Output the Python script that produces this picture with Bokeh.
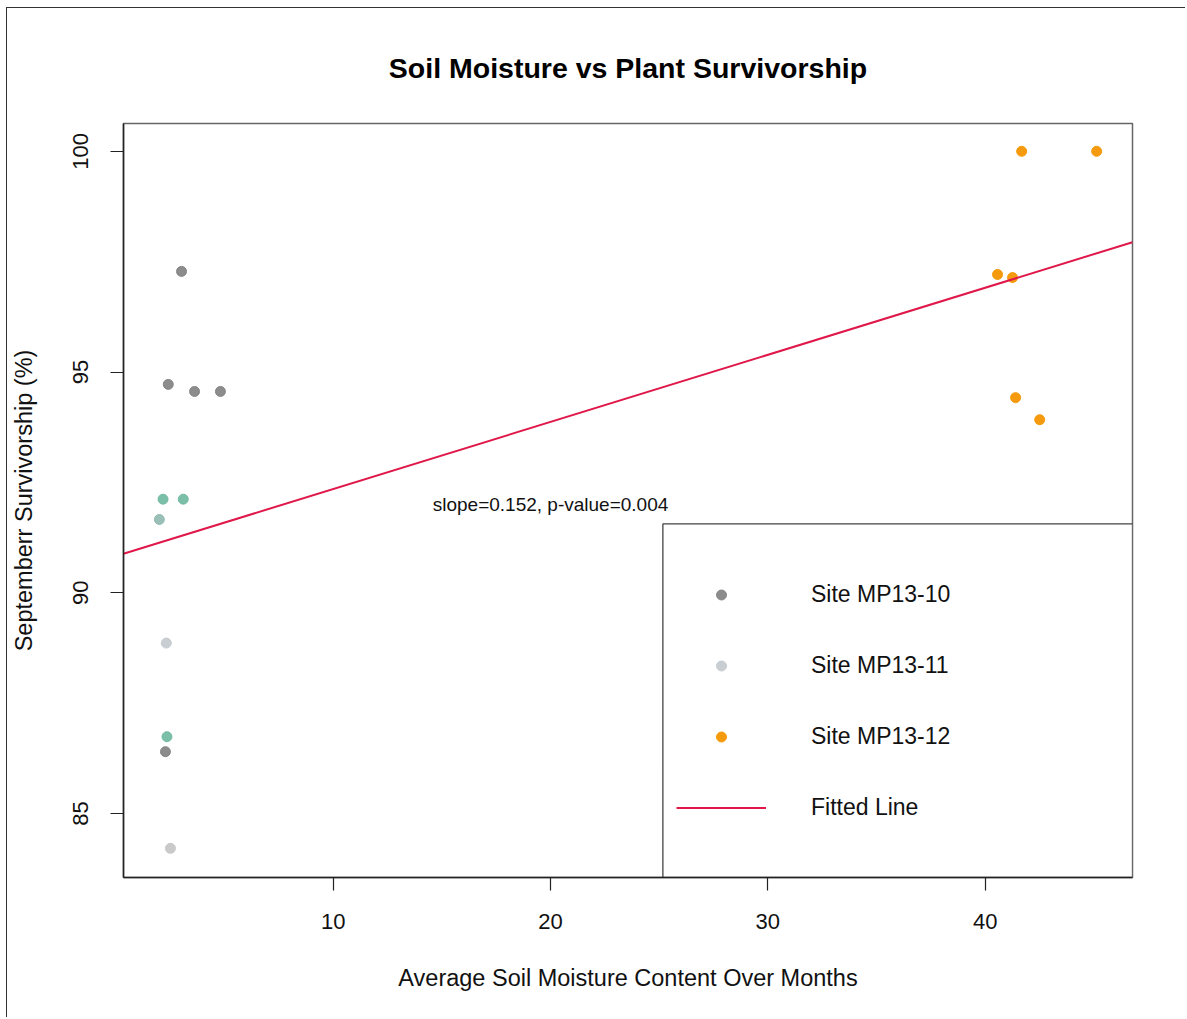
from bokeh.plotting import figure
from bokeh.models import (Range1d, FixedTicker, Legend, LegendItem, BoxAnnotation,
                          Label, ColumnDataSource)
from bokeh.embed import file_html
from bokeh.resources import INLINE

FONT = "Liberation Sans"

# Site MP13-10
mp10_moisture = [3.02, 2.41, 3.62, 4.81, 2.28]
mp10_survival = [97.28, 94.72, 94.56, 94.56, 86.40]
# Site MP13-11
mp11_moisture = [2.17, 3.10, 2.00, 2.35, 2.32, 2.51]
mp11_survival = [92.12, 92.12, 91.66, 86.74, 88.86, 84.21]
# Site MP13-12
mp12_moisture = [41.68, 45.13, 40.57, 41.26, 41.40, 42.51]
mp12_survival = [100.0, 100.0, 97.21, 97.14, 94.42, 93.92]

# linear fit of survivorship on soil moisture
fit_slope = 0.152
fit_intercept = 90.83
fit_p_value = 0.004

x_ticks = [10, 20, 30, 40]
y_ticks = [85, 90, 95, 100]

x_lo, x_hi = 0.35, 46.78
y_lo, y_hi = 83.55, 100.63

mp11_colors = ["#6db8a0", "#6db8a0", "#8fb8ae", "#6db8a0", "#c2c9cc", "#c4c4c4"]

# the figure sits inside a thin page frame drawn on its top and left edges
p = figure(width=1179, height=1010, output_backend="svg", toolbar_location=None,
           x_range=Range1d(x_lo, x_hi), y_range=Range1d(y_lo, y_hi),
           min_border_left=110, min_border_right=54, min_border_top=115,
           min_border_bottom=141, background_fill_color="white",
           border_fill_color="white")
p.styles = {"margin-left": "6px", "margin-top": "7px",
            "border-left": "1.5px solid #333333", "border-top": "1.5px solid #333333"}

p.title.text = "Soil Moisture vs Plant Survivorship"
p.title.text_font = FONT
p.title.text_font_size = "28.5px"
p.title.text_font_style = "bold"
p.title.text_color = "#000000"
p.title.align = "center"
p.title.standoff = 79

p.xgrid.visible = False
p.ygrid.visible = False
p.outline_line_color = "#666666"
p.outline_line_width = 1.5

for ax in (p.xaxis[0], p.yaxis[0]):
    ax.axis_line_color = "#222222"
    ax.axis_line_width = 1.5
    ax.major_tick_line_color = "#222222"
    ax.major_tick_line_width = 1.2
    ax.major_tick_out = 13
    ax.major_tick_in = 0
    ax.minor_tick_line_color = None
    ax.major_label_text_font = FONT
    ax.major_label_text_font_size = "22px"
    ax.major_label_text_color = "#111111"
    ax.axis_label_text_font = FONT
    ax.axis_label_text_font_size = "23.5px"
    ax.axis_label_text_font_style = "normal"
    ax.axis_label_text_color = "#111111"

p.xaxis.ticker = FixedTicker(ticks=x_ticks)
p.yaxis.ticker = FixedTicker(ticks=y_ticks)
p.xaxis.axis_label = "Average Soil Moisture Content Over Months"
p.yaxis.axis_label = "Septemberr Survivorship (%)"
p.xaxis.major_label_standoff = 23
p.xaxis.axis_label_standoff = 33
p.yaxis.major_label_standoff = 22
p.yaxis.major_label_orientation = "vertical"
p.yaxis.axis_label_standoff = 34

# legend panel box in the lower right of the frame
p.add_layout(BoxAnnotation(left=25.17, top=91.56, fill_color="white", fill_alpha=1.0,
                           line_color="#444444", line_alpha=1.0, line_width=1.3,
                           level="underlay"))

src10 = ColumnDataSource(dict(x=mp10_moisture, y=mp10_survival))
src11 = ColumnDataSource(dict(x=mp11_moisture, y=mp11_survival, c=mp11_colors))
src12 = ColumnDataSource(dict(x=mp12_moisture, y=mp12_survival))

r10 = p.scatter("x", "y", source=src10, size=10, color="#7f7f7f", alpha=0.9)
r11 = p.scatter("x", "y", source=src11, size=10, color="c", alpha=0.9)
r12 = p.scatter("x", "y", source=src12, size=10, color="#f59a0c", alpha=1.0)

fit_x = [x_lo, x_hi]
fit_y = [fit_intercept + fit_slope * v for v in fit_x]
rfit = p.line(fit_x, fit_y, line_color="#e0184a", line_width=2)

p.add_layout(Label(x=20.0, y=92.0, text=f"slope={fit_slope}, p-value={fit_p_value}",
                   text_font=FONT, text_font_size="19px", text_align="center",
                   text_baseline="middle", text_color="#111111"))

legend = Legend(items=[
    LegendItem(label="Site MP13-10", renderers=[r10], index=0),
    LegendItem(label="Site MP13-11", renderers=[r11], index=4),
    LegendItem(label="Site MP13-12", renderers=[r12], index=0),
    LegendItem(label="Fitted Line", renderers=[rfit]),
], location=(553, 50), padding=0, margin=0, spacing=31, glyph_width=90,
   glyph_height=25, label_height=40, label_standoff=45,
   label_text_font=FONT, label_text_font_size="23px", label_text_color="#111111",
   border_line_alpha=0, background_fill_alpha=0)
p.add_layout(legend)

open("out.html", "w").write(file_html(p, INLINE))
